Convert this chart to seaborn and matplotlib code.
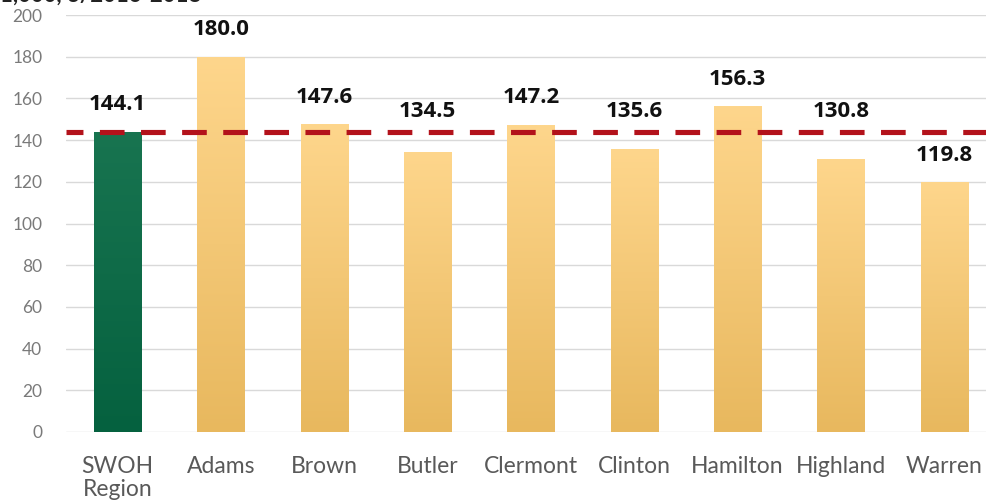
import numpy as np
import pandas as pd
import matplotlib
matplotlib.use("Agg")
import matplotlib.pyplot as plt
import seaborn as sns
from matplotlib.colors import LinearSegmentedColormap

# ── data ───────────────────────────────────────────────────────────────
regions = ["SWOH\nRegion", "Adams", "Brown", "Butler", "Clermont",
           "Clinton", "Hamilton", "Highland", "Warren"]
rates = [144.1, 180.0, 147.6, 134.5, 147.2, 135.6, 156.3, 130.8, 119.8]
region_rate = 144.1
y_ticks = list(range(0, 201, 20))

df = pd.DataFrame({"region": regions, "rate": rates})

# ── style ──────────────────────────────────────────────────────────────
sns.set_theme(style="white")
plt.rcParams["font.family"] = ["Lato", "DejaVu Sans"]

fig = plt.figure(figsize=(9.87, 5.04), dpi=100)
ax = fig.add_axes([66 / 987, 1 - 432 / 504, 930 / 987, 417 / 504])

sns.barplot(data=df, x="region", y="rate", ax=ax, width=0.46,
            color="#f5c874", edgecolor="none", zorder=2)

# vertical gradient fill, clipped to each bar
gold = LinearSegmentedColormap.from_list("gold", ["#e8b85e", "#fed68c"])
green = LinearSegmentedColormap.from_list("green", ["#05613f", "#187450"])
grad = np.linspace(0, 1, 256).reshape(-1, 1)
for i, patch in enumerate(ax.patches):
    x0, y0 = patch.get_x(), patch.get_y()
    w, h = patch.get_width(), patch.get_height()
    im = ax.imshow(grad, cmap=green if i == 0 else gold, origin="lower",
                   extent=[x0, x0 + w, y0, y0 + h], aspect="auto", zorder=3)
    im.set_clip_path(patch)
    patch.set_facecolor("none")
    # labels that would sit on the dashed line are lifted above it
    y_lab = rates[i] + 13
    if region_rate - 10 < y_lab < region_rate + 9:
        y_lab = region_rate + 9.5
    ax.text(x0 + w / 2, y_lab, f"{rates[i]:.1f}", ha="center", va="center",
            fontsize=16, fontweight="bold", color="#111111",
            family=["Open Sans", "DejaVu Sans"], zorder=5)

ax.axhline(region_rate, color="#b3121b", lw=3.7, ls=(1.5, (4.8, 3.2)), zorder=4)

ax.set_xlim(-0.5, 8.5)
ax.set_ylim(0, 200)
ax.set_yticks(y_ticks)
ax.yaxis.grid(True, color="#d9d9d9", lw=1)
ax.set_axisbelow(True)
for s in ax.spines.values():
    s.set_visible(False)
ax.tick_params(axis="y", length=0, pad=17, labelsize=12.5, labelcolor="#7a7a7a")
ax.tick_params(axis="x", length=0, pad=17, labelsize=16.5, labelcolor="#595959")
for lbl in ax.get_xticklabels():
    lbl.set_verticalalignment("top")
    lbl.set_linespacing(1.15)
ax.set_xlabel("")
ax.set_ylabel("")

# clipped title remnant at the very top
fig.text(0.0, 1 + 5 / 504, "1,000, 3/2016-2018", ha="left", va="center",
         fontsize=16, fontweight="bold", color="#222222")

fig.savefig("out.png", dpi=100)
